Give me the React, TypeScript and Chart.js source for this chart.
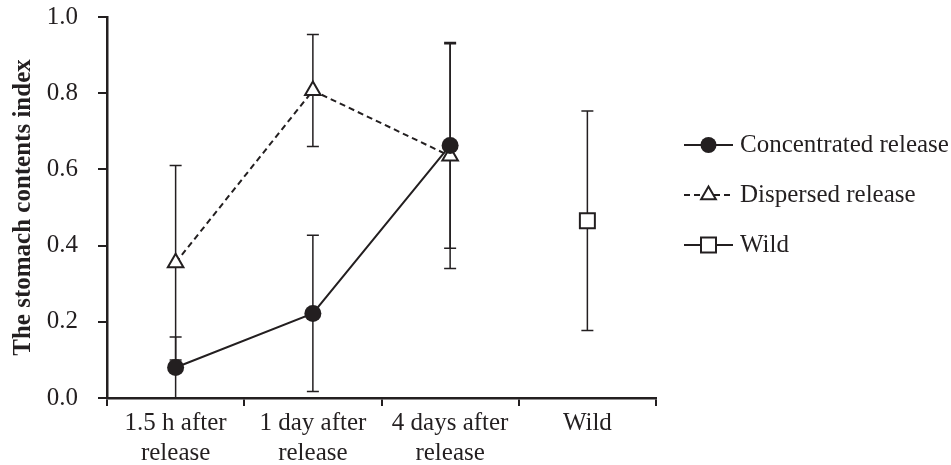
import React, { useEffect, useRef } from 'react';
import { Chart, registerables } from 'chart.js';

Chart.register(...registerables);

const categories: (string | string[])[] = [
  ['1.5 h after', 'release'],
  ['1 day after', 'release'],
  ['4 days after', 'release'],
  'Wild',
];
const concentrated = [0.08, 0.222, 0.663, null];
const concentratedErr = [0.08, 0.205, 0.27, null];
const dispersed = [0.355, 0.807, 0.635, null];
const dispersedErr = [0.255, 0.147, 0.295, null];
const wild = [null, null, null, 0.465];
const wildErr = [null, null, null, 0.288];
const yTicks = [0, 0.2, 0.4, 0.6, 0.8, 1.0];
const legendLabels = ['Concentrated release', 'Dispersed release', 'Wild'];
const yTitle = 'The stomach contents index';

const INK = '#231f20';
const FONT = 'Liberation Serif, Times New Roman, serif';
const errors = [concentratedErr, dispersedErr, wildErr];

const errorBarPlugin = {
  id: 'errorBars',
  beforeDatasetsDraw(chart: any) {
    const ctx = chart.ctx;
    const yScale = chart.scales.y;
    const area = chart.chartArea;
    ctx.save();
    ctx.beginPath();
    ctx.rect(area.left, area.top - 20, area.right - area.left, area.bottom - area.top + 20);
    ctx.clip();
    ctx.strokeStyle = INK;
    ctx.lineWidth = 1.5;
    chart.data.datasets.forEach((ds: any, di: number) => {
      const meta = chart.getDatasetMeta(di);
      const errs = errors[di];
      ds.data.forEach((v: number | null, i: number) => {
        const e = errs[i];
        if (v == null || e == null) return;
        const x = meta.data[i].x;
        const yt = yScale.getPixelForValue(v + e);
        const yb = yScale.getPixelForValue(v - e);
        ctx.beginPath();
        ctx.moveTo(x, yt);
        ctx.lineTo(x, yb);
        ctx.moveTo(x - 6, yt);
        ctx.lineTo(x + 6, yt);
        ctx.moveTo(x - 6, yb);
        ctx.lineTo(x + 6, yb);
        ctx.stroke();
      });
    });
    ctx.restore();
  },
};

const legendPlugin = {
  id: 'sideLegend',
  afterDraw(chart: any) {
    const ctx = chart.ctx;
    const area = chart.chartArea;
    const x0 = area.right + 28;
    const x1 = area.right + 77;
    const xm = (x0 + x1) / 2;
    const tx = area.right + 84;
    ctx.save();
    chart.data.datasets.forEach((ds: any, i: number) => {
      const y = area.top + 128 + i * 50;
      ctx.strokeStyle = INK;
      ctx.lineWidth = 2;
      ctx.setLineDash(ds.borderDash || []);
      ctx.beginPath();
      ctx.moveTo(x0, y);
      ctx.lineTo(x1, y);
      ctx.stroke();
      ctx.setLineDash([]);
      const style = ds.pointStyle;
      ctx.fillStyle = ds.pointBackgroundColor;
      ctx.lineWidth = 2;
      ctx.beginPath();
      if (style === 'circle') {
        ctx.arc(xm, y, 8, 0, Math.PI * 2);
        ctx.fill();
      } else if (style === 'triangle') {
        const r = 8.5;
        ctx.moveTo(xm, y - r);
        ctx.lineTo(xm + r * 0.866, y + r * 0.5);
        ctx.lineTo(xm - r * 0.866, y + r * 0.5);
        ctx.closePath();
        ctx.fill();
        ctx.stroke();
      } else {
        ctx.rect(xm - 7.5, y - 7.5, 15, 15);
        ctx.fill();
        ctx.stroke();
      }
      ctx.fillStyle = INK;
      ctx.font = `25px ${FONT}`;
      ctx.textBaseline = 'middle';
      ctx.textAlign = 'left';
      ctx.fillText(legendLabels[i], tx, y);
    });
    ctx.restore();
  },
};

export default function App() {
  const ref = useRef<HTMLCanvasElement | null>(null);
  useEffect(() => {
    document.body.style.margin = '0';
    const canvas = ref.current;
    if (!canvas) return;
    const chart = new Chart(canvas, {
      type: 'line',
      data: {
        labels: categories as any,
        datasets: [
          {
            label: legendLabels[0],
            data: concentrated,
            borderColor: INK,
            borderWidth: 2,
            pointStyle: 'circle',
            pointRadius: 8.5,
            pointBackgroundColor: INK,
            pointBorderColor: INK,
            pointBorderWidth: 0,
            tension: 0,
          },
          {
            label: legendLabels[1],
            data: dispersed,
            borderColor: INK,
            borderWidth: 2,
            borderDash: [6, 4],
            pointStyle: 'triangle',
            pointRadius: 9,
            pointBackgroundColor: '#ffffff',
            pointBorderColor: INK,
            pointBorderWidth: 2,
            tension: 0,
          },
          {
            label: legendLabels[2],
            data: wild,
            borderColor: INK,
            borderWidth: 2,
            pointStyle: 'rect',
            pointRadius: 10.6,
            pointBackgroundColor: '#ffffff',
            pointBorderColor: INK,
            pointBorderWidth: 2,
            showLine: false,
          },
        ] as any,
      },
      options: {
        animation: false,
        responsive: true,
        maintainAspectRatio: false,
        layout: { padding: { left: 0, right: 295, top: 17, bottom: 0 } },
        plugins: { legend: { display: false }, tooltip: { enabled: false } },
        scales: {
          x: {
            type: 'category',
            offset: true,
            grid: { offset: true, drawOnChartArea: false, drawTicks: true, tickLength: 8, color: INK, lineWidth: 2 },
            border: { color: INK, width: 2.5 },
            ticks: { color: INK, font: { family: FONT, size: 25, lineHeight: 1.2 }, padding: 2, maxRotation: 0, autoSkip: false },
            afterFit: (s: any) => { s.height = 67; },
          },
          y: {
            min: 0,
            max: 1,
            afterBuildTicks: (s: any) => { s.ticks = yTicks.map((v) => ({ value: v })); },
            grid: { drawOnChartArea: false, drawTicks: true, tickLength: 9, color: INK, lineWidth: 2 },
            border: { color: INK, width: 2.5 },
            ticks: { color: INK, font: { family: FONT, size: 25 }, padding: 20, callback: (v: any) => Number(v).toFixed(1) },
            title: { display: true, text: yTitle, color: INK, font: { family: FONT, size: 25, weight: 'bold' }, padding: { top: 9, bottom: 0 } },
            afterFit: (s: any) => { s.width = 107; s.paddingTop = 0; s.paddingBottom = 0; },
          },
        },
      } as any,
      plugins: [errorBarPlugin, legendPlugin],
    });
    return () => chart.destroy();
  }, []);
  return (
    <div style={{ position: 'relative', width: 951, height: 465 }}>
      <canvas ref={ref} />
    </div>
  );
}
